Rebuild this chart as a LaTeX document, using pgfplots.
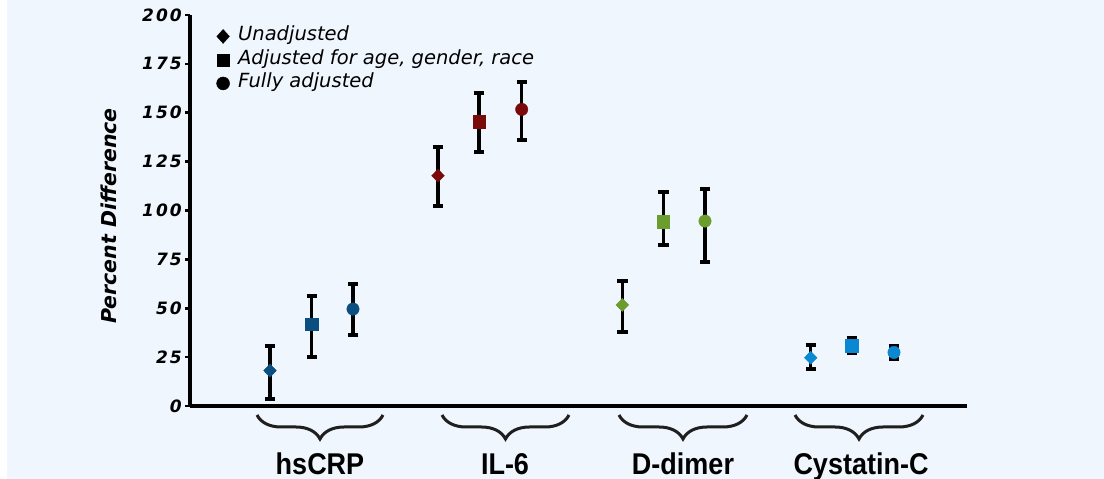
\documentclass[border=0pt]{standalone}
\usepackage{fontspec}
\setmainfont{DejaVu Sans}
\newfontfamily\labfont{Liberation Sans}
\newfontfamily\tickfont[LetterSpace=12]{DejaVu Sans}
\usepackage{pgfplots}
\pgfplotsset{compat=1.18}
\usepackage{pgfplotstable}
\usetikzlibrary{decorations.pathreplacing}
\definecolor{bg}{HTML}{EFF6FD}
\definecolor{cA}{HTML}{0B4F80}
\definecolor{cB}{HTML}{7A0A0A}
\definecolor{cC}{HTML}{6A9C2E}
\definecolor{cD}{HTML}{0A88D2}

% x = horizontal position (px), y = percent difference, ep/em = error up/down
\pgfplotstableread{
x y ep em cls
270 18.1 12.6 14.5 a
438 117.8 14.8 15.5 b
622.3 51.7 12.4 13.7 c
810.7 24.7 6.5 5.9 d
}\tabdiam
\pgfplotstableread{
x y ep em cls
311.7 41.9 14.5 16.7 a
479 145.4 14.9 15.7 b
663.3 94.3 15.3 11.9 c
851.7 30.8 3.8 3.8 d
}\tabsqu
\pgfplotstableread{
x y ep em cls
353 49.6 12.6 13.3 a
521.7 151.7 14.2 15.6 b
705 94.6 16.2 21.1 c
894 27.4 3.3 3.5 d
}\tabcirc

\pgfplotsset{errb/.style={forget plot, draw=none, mark=none,
  error bars/.cd, y dir=both, y explicit,
  error bar style={draw=black, line width=3.5pt},
  error mark options={draw=black, line width=4pt, mark size=5.2pt, rotate=90}}}

\begin{document}
\begin{tikzpicture}[x=1pt,y=1pt]
\useasboundingbox (0,0) rectangle (1104,479);
\fill[white] (0,0) rectangle (1104,479);
\fill[bg] (7,0) rectangle (1104,479);
\begin{axis}[
  at={(190pt,73pt)}, anchor=south west,
  scale only axis, width=777pt, height=391pt,
  xmin=190, xmax=967, ymin=0, ymax=200,
  axis x line=bottom, axis y line=left,
  axis line style={line width=4pt, -},
  xtick=\empty, ytick={0,25,...,200},
  tick align=outside, major tick length=5pt,
  every tick/.style={line width=2.7pt, black},
  /pgf/number format/assume math mode=true,
  yticklabel style={font=\tickfont\bfseries\itshape\fontsize{17}{17}\selectfont, inner sep=0pt, xshift=-3pt},
  clip=false,
  legend style={at={(0.034,0.970)}, anchor=north west, draw=none, fill=none, inner sep=0pt,
    font=\itshape\fontsize{19.5}{19.5}\selectfont, row sep=4.5pt,
    nodes={inner sep=0pt, text height=14pt, text depth=5pt},
    /tikz/every odd column/.append style={column sep=8.5pt}},
  legend cell align=left,
  scatter/classes={a={draw=cA,fill=cA}, b={draw=cB,fill=cB}, c={draw=cC,fill=cC}, d={draw=cD,fill=cD}},
]
\addlegendimage{only marks, mark=diamond*, black, mark size=7pt, mark options={xscale=1.2}}
\addlegendentry{Unadjusted}
\addlegendimage{only marks, mark=square*, black, mark size=6pt}
\addlegendentry{Adjusted for age, gender, race}
\addlegendimage{only marks, mark=*, black, mark size=6.5pt}
\addlegendentry{Fully adjusted}

% error bars
\addplot[errb] table[x=x, y=y, y error plus=ep, y error minus=em] {\tabdiam};
\addplot[errb] table[x=x, y=y, y error plus=ep, y error minus=em] {\tabsqu};
\addplot[errb] table[x=x, y=y, y error plus=ep, y error minus=em] {\tabcirc};
% markers
\addplot[forget plot, only marks, mark=diamond*, mark size=6.5pt, mark options={xscale=1.3},
  scatter, scatter src=explicit symbolic] table[x=x, y=y, meta=cls] {\tabdiam};
\addplot[forget plot, only marks, mark=square*, mark size=6.3pt,
  scatter, scatter src=explicit symbolic] table[x=x, y=y, meta=cls] {\tabsqu};
\addplot[forget plot, only marks, mark=*, mark size=6.2pt,
  scatter, scatter src=explicit symbolic] table[x=x, y=y, meta=cls] {\tabcirc};
\end{axis}

\node[rotate=90, font=\bfseries\itshape\fontsize{20.5}{20.5}\selectfont] at (109,263) {Percent Difference};

\begin{scope}[line width=3pt, color=black!88, decoration={brace, mirror, amplitude=24pt}]
\draw[decorate] (257,64) -- (383,64);
\draw[decorate] (442,64) -- (569,64);
\draw[decorate] (619,64) -- (747,64);
\draw[decorate] (795,64) -- (923,64);
\end{scope}
\begin{scope}[every node/.style={anchor=base, inner sep=0pt, xscale=0.9, font=\labfont\bfseries\fontsize{30}{30}\selectfont}]
\node at (320,4) {hsCRP};
\node at (505,4) {IL-6};
\node at (683,4) {D-dimer};
\node at (861,4) {Cystatin-C};
\end{scope}
\end{tikzpicture}
\end{document}
